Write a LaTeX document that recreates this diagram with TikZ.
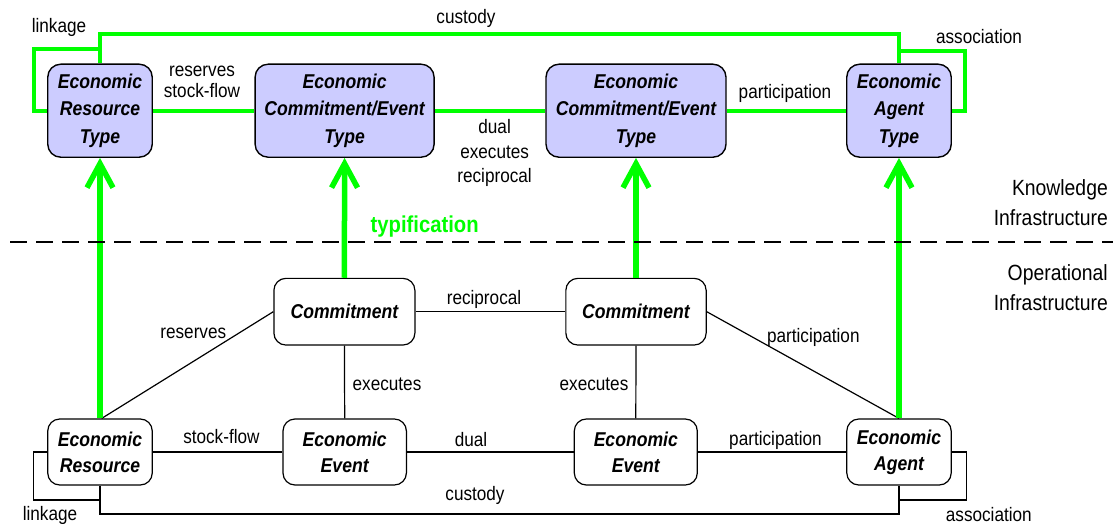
\documentclass[tikz,border=0pt]{standalone}
\usepackage{fontspec}
\setmainfont{Liberation Sans}[FakeStretch=0.88]
\usepackage{tikz}
\usetikzlibrary{arrows.meta,positioning}
\definecolor{typefill}{HTML}{CCCCFF}
\definecolor{typegreen}{HTML}{00FF00}
\tikzset{
  typebox/.style={draw, rounded corners=13pt, fill=typefill, line width=1.4pt, align=center,
    minimum height=93pt, inner sep=0pt, font=\fontsize{20}{27.5}\selectfont\bfseries\itshape},
  opbox/.style={draw, rounded corners=12pt, fill=white, line width=1.2pt, align=center,
    minimum height=66pt, inner sep=0pt, font=\fontsize{20}{26}\selectfont\bfseries\itshape},
  lbl/.style={font=\fontsize{19.5}{20.5}\selectfont, align=center, inner sep=0pt},
  sidelbl/.style={font=\fontsize{22}{30}\selectfont, align=right, inner sep=0pt, anchor=east},
  typelink/.style={draw=typegreen, line width=4pt},
  typify/.style={draw=typegreen, line width=5.5pt, -{Straight Barb[length=24pt,width=26pt]}},
  oplink/.style={draw=black, line width=1.2pt}
}

\begin{document}
\begin{tikzpicture}[x=1pt, y=-1pt]
   \useasboundingbox (0,0) rectangle (1113,524);
   \begin{scope}[every node/.style={typebox}]
    \node[minimum width=104.5pt] (rtype) at (100,110.7) {Economic\\Resource\\Type};
    \node[minimum width=179pt] (cetype1) at (344.6,110.7) {Economic\\Commitment/Event\\Type};
    \node[minimum width=180pt] (cetype2) at (636,110.7) {Economic\\Commitment/Event\\Type};
    \node[minimum width=104.5pt] (atype) at (899,110.7) {Economic\\Agent\\Type};
   \end{scope}
   \begin{scope}[every node/.style={opbox}]
    \node[minimum width=141pt, minimum height=66.7pt] (com1) at (344.4,311.7) {Commitment};
    \node[minimum width=140.3pt, minimum height=66.7pt] (com2) at (636,311.7) {Commitment};
    \node[minimum width=104.5pt] (res) at (100,452) {Economic\\Resource};
    \node[minimum width=123.4pt] (evt1) at (344.7,452) {Economic\\Event};
    \node[minimum width=123pt] (evt2) at (635.8,452) {Economic\\Event};
    \node[minimum width=104.4pt] (agt) at (899,452) {Economic\\Agent};
   \end{scope}
   \begin{scope}[every edge/.style={typelink}]
    \draw (rtype) edge (cetype1);
    \draw (cetype1) edge (cetype2);
    \draw (cetype2) edge (atype);
    \draw[typelink] (rtype.north) -- ++(0,-29) -| (atype.north);
    \draw[typelink] (rtype.west) -- ++(-13.4,0) |- ([yshift=14.7pt]rtype.north);
    \draw[typelink] (atype.east) -- ++(12.6,0) |- ([yshift=12.3pt]atype.north);
   \end{scope}
   \begin{scope}[every edge/.style={oplink}]
    \draw (res) edge (evt1);
    \draw (evt1) edge (evt2);
    \draw (evt2) edge (agt);
    \draw (com1) edge (com2);
    \draw (com1.south) edge (evt1.north);
    \draw (com2.south) edge (evt2.north);
    \draw ([xshift=1.7pt]res.north) edge (com1.west);
    \draw (com2.east) edge (agt.north);
    \draw[oplink] (res.south) -- ++(0,28.3) -| (agt.south);
    \draw[oplink] (res.west) -- ++(-14,0) |- ([yshift=-14.3pt]res.south);
    \draw[oplink] (agt.east) -- ++(14.4,0) |- ([yshift=-14.3pt]agt.south);
   \end{scope}
   \draw[typify] (res.north) -- (rtype.south);
   \draw[typify] (com1.north) -- (cetype1.south);
   \draw[typify] (com2.north) -- (cetype2.south);
   \draw[typify] (agt.north) -- (atype.south);
   \coordinate (divl) at (10,241.7);
   \coordinate (divr) at (1113,241.7);
   \draw[line width=2pt, dash pattern=on 17pt off 9pt] (divl) -- (divr);
   \begin{scope}[every node/.style={lbl}]
    \node (tlinkage) at (59,27) {linkage};
    \node (tcustody) at (466,18.3) {custody};
    \node (tassoc) at (979,36.7) {association};
    \node (tresflow) at (202,81.7) {reserves\\stock-flow};
    \node[font=\fontsize{19.5}{24.5}\selectfont] (tdual) at (494.6,153) {dual\\executes\\reciprocal};
    \node (tpart) at (785,93.3) {participation};
    \node (oreserves) at (193.3,333.3) {reserves};
    \node (orecip) at (484,299.3) {reciprocal};
    \node (oexec1) at (387,384) {executes};
    \node (oexec2) at (594,384) {executes};
    \node (opartd) at (813.3,337.3) {participation};
    \node (oflow) at (221.4,436.7) {stock-flow};
    \node (odual) at (471,440) {dual};
    \node (opart) at (775.5,440) {participation};
    \node (ocustody) at (475,495) {custody};
    \node (olinkage) at (50,515) {linkage};
    \node (oassoc) at (988.8,515) {association};
   \end{scope}
   \node[font=\fontsize{23}{24}\selectfont\bfseries, text=typegreen, inner sep=0pt] (typif) at (424.7,226.7) {typification};
   \node[sidelbl] (know) at (1108,203) {Knowledge\\Infrastructure};
   \node[sidelbl] (oper) at (1108,288) {Operational\\Infrastructure};
\end{tikzpicture}
\end{document}
